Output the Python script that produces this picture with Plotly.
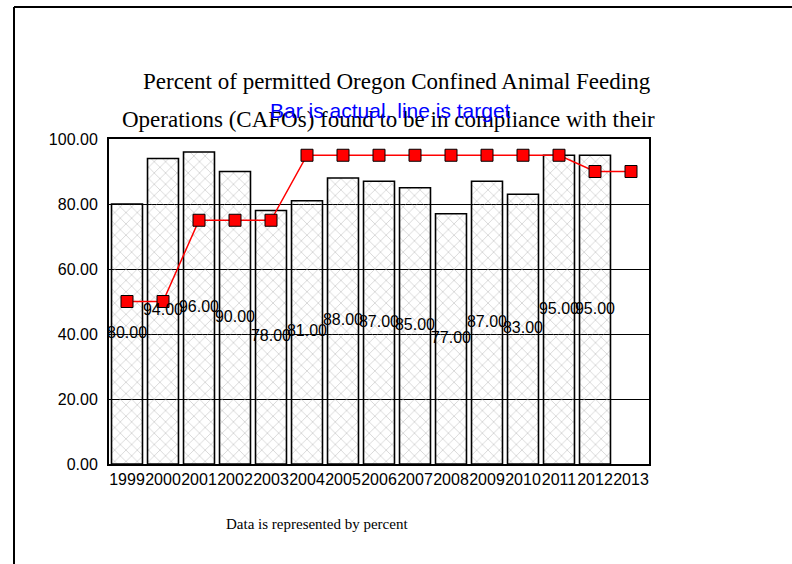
import plotly.graph_objects as go

years = ["1999", "2000", "2001", "2002", "2003", "2004", "2005", "2006",
         "2007", "2008", "2009", "2010", "2011", "2012", "2013"]
actual_years = years[:14]
actual = [80, 94, 96, 90, 78, 81, 88, 87, 85, 77, 87, 83, 95, 95]
target = [50, 50, 75, 75, 75, 95, 95, 95, 95, 95, 95, 95, 95, 90, 90]
y_ticks = [0, 20, 40, 60, 80, 100]

title_line1 = "Percent of permitted Oregon Confined Animal Feeding"
title_line2 = "Operations (CAFOs) found to be in compliance with their"
subtitle = "Bar is actual, line is target"
footer = "Data is represented by percent"

L, R, T, B = 109, 649, 139, 464
PW, PH = R - L, B - T


def px(x):
    return (x - L) / PW


def py(y):
    return (B - y) / PH


fig = go.Figure()

fig.add_trace(go.Bar(
    x=actual_years, y=actual,
    marker=dict(
        color="rgba(255,255,255,0)",
        line=dict(color="black", width=1.6),
        pattern=dict(shape="x", fgcolor="#a8a8a8", bgcolor="rgba(255,255,255,0)",
                     size=8, solidity=0.2, fillmode="overlay"),
    ),
    showlegend=False,
))

fig.add_trace(go.Scatter(
    x=years, y=target, mode="lines+markers",
    line=dict(color="red", width=1.5),
    marker=dict(symbol="square", size=12, color="red",
                line=dict(color="black", width=1)),
    showlegend=False,
))

fig.add_trace(go.Scatter(
    x=actual_years, y=[v / 2 for v in actual], mode="text",
    text=[f"{v:.2f}" for v in actual],
    textposition="middle center",
    textfont=dict(family="Liberation Sans, Arial", size=16, color="black"),
    showlegend=False,
))

# outer frame (top and left edges visible)
fig.add_shape(type="line", xref="paper", yref="paper",
              x0=px(14), x1=px(800), y0=py(7), y1=py(7),
              line=dict(color="black", width=2))
fig.add_shape(type="line", xref="paper", yref="paper",
              x0=px(14), x1=px(14), y0=py(570), y1=py(7),
              line=dict(color="black", width=2))

fig.add_annotation(text=title_line1, xref="paper", yref="paper",
                   x=px(397), y=py(82),
                   showarrow=False, xanchor="center", yanchor="middle",
                   font=dict(family="Liberation Serif, Times New Roman", size=23, color="black"))
fig.add_annotation(text=title_line2, xref="paper", yref="paper",
                   x=px(388), y=py(120),
                   showarrow=False, xanchor="center", yanchor="middle",
                   font=dict(family="Liberation Serif, Times New Roman", size=23, color="black"))
fig.add_annotation(text=subtitle, xref="paper", yref="paper",
                   x=px(390), y=py(110),
                   showarrow=False, xanchor="center", yanchor="middle",
                   font=dict(family="Liberation Sans, Arial", size=21, color="blue"))
fig.add_annotation(text=footer, xref="paper", yref="paper",
                   x=px(317), y=py(524),
                   showarrow=False, xanchor="center", yanchor="middle",
                   font=dict(family="Liberation Serif, Times New Roman", size=15, color="black"))

fig.update_layout(
    width=792, height=564,
    margin=dict(l=L, r=792 - R, t=T, b=564 - B, autoexpand=False),
    paper_bgcolor="white", plot_bgcolor="white",
    bargap=0.14,
    xaxis=dict(type="category", categoryorder="array", categoryarray=years,
               range=[-0.5, len(years) - 0.5], automargin=False,
               showline=True, linecolor="black", linewidth=2, mirror=True,
               showgrid=False, ticks="", tickangle=0,
               tickfont=dict(family="Liberation Sans, Arial", size=16, color="black")),
    yaxis=dict(range=[0, 100], tickvals=y_ticks, tickformat=".2f", automargin=False,
               showline=True, linecolor="black", linewidth=2, mirror=True,
               showgrid=True, gridcolor="black", gridwidth=1, zeroline=False,
               ticks="", ticklabelstandoff=6,
               tickfont=dict(family="Liberation Sans, Arial", size=16, color="black")),
)

fig.write_html("out.html", config={"displayModeBar": False},
               post_script="document.body.style.margin='0';document.body.style.padding='0';")
